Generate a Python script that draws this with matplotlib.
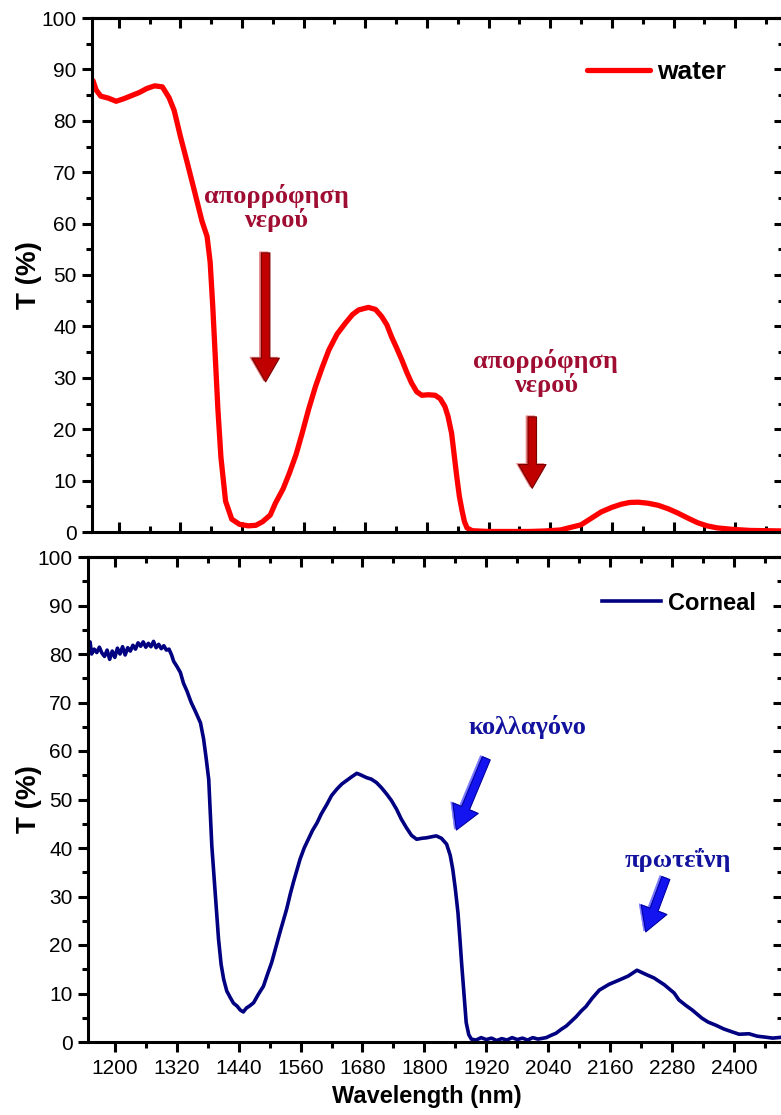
###################################################
# transmission spectra: water vs corneal tissue
###################################################
import matplotlib
matplotlib.use("Agg")
import matplotlib.pyplot as plt
from matplotlib.ticker import MultipleLocator
from matplotlib.transforms import offset_copy

plt.rcParams['font.family'] = ['Liberation Sans', 'DejaVu Sans']

# water spectrum (nm, %T)
water_nm = [1150, 1156, 1165, 1180, 1195, 1210, 1225, 1240, 1255, 1270, 1285, 1298,
            1308, 1320, 1333, 1347, 1362, 1372, 1378, 1383, 1388, 1393, 1399, 1408,
            1420, 1435, 1452, 1467, 1480, 1495, 1505, 1520, 1532, 1545, 1557, 1570,
            1583, 1596, 1609, 1625, 1641, 1655, 1667, 1686, 1700, 1712, 1722, 1731,
            1741, 1751, 1761, 1770, 1780, 1790, 1803, 1816, 1826, 1835, 1841, 1848,
            1853, 1858, 1863, 1868, 1873, 1878, 1888, 1920, 1960, 2000, 2030, 2060,
            2100, 2139, 2160, 2178, 2195, 2211, 2230, 2250, 2270, 2288, 2310, 2327,
            2345, 2365, 2396, 2430, 2495]
water_T = [87.8, 86.0, 84.8, 84.4, 83.8, 84.3, 84.9, 85.5, 86.3, 86.8, 86.6, 84.5,
           82.0, 77.0, 72.0, 66.5, 60.5, 57.5, 52.5, 44.0, 34.0, 24.0, 14.5, 6.0,
           2.5, 1.5, 1.2, 1.3, 2.0, 3.3, 5.6, 8.4, 11.4, 15.0, 19.2, 24.0,
           28.3, 32.0, 35.4, 38.5, 40.6, 42.3, 43.2, 43.7, 43.3, 41.9, 40.3, 38.0,
           35.8, 33.5, 31.0, 29.0, 27.3, 26.6, 26.7, 26.6, 25.9, 24.4, 22.5, 19.2,
           15.0, 10.8, 7.0, 4.3, 2.0, 0.8, 0.25, 0.1, 0.1, 0.1, 0.2, 0.4,
           1.4, 3.9, 4.8, 5.4, 5.75, 5.8, 5.6, 5.2, 4.5, 3.7, 2.6, 1.8,
           1.2, 0.8, 0.5, 0.3, 0.2]

# corneal spectrum (nm, %T)
cornea_nm = [1150, 1152, 1155, 1160, 1165, 1170, 1175, 1180, 1185, 1190, 1195, 1200,
             1205, 1210, 1215, 1220, 1225, 1230, 1235, 1240, 1245, 1250, 1255, 1260,
             1265, 1270, 1275, 1280, 1285, 1290, 1295, 1300, 1305, 1310, 1314, 1320,
             1327, 1333, 1340, 1348, 1356, 1366, 1372, 1377, 1382, 1385, 1388, 1395,
             1401, 1406, 1411, 1417, 1424, 1430, 1437, 1443, 1449, 1455, 1462, 1469,
             1478, 1488, 1496, 1504, 1512, 1520, 1527, 1533, 1540, 1546, 1553, 1559,
             1567, 1575, 1583, 1592, 1600, 1611, 1620, 1630, 1640, 1649, 1658, 1669,
             1678, 1688, 1697, 1707, 1717, 1727, 1736, 1746, 1755, 1765, 1775, 1785,
             1795, 1804, 1813, 1823, 1833, 1843, 1850, 1855, 1860, 1865, 1869, 1872,
             1877, 1881, 1886, 1891, 1900, 1910, 1920, 1930, 1940, 1950, 1960, 1970,
             1980, 1990, 2000, 2010, 2020, 2036, 2046, 2055, 2065, 2075, 2085, 2094,
             2104, 2113, 2125, 2139, 2158, 2178, 2195, 2212, 2228, 2245, 2265, 2284,
             2293, 2306, 2319, 2338, 2350, 2364, 2380, 2396, 2410, 2429, 2445, 2461,
             2475, 2495]
cornea_T = [80.9, 82.5, 80.0, 81.0, 80.3, 81.4, 80.2, 79.5, 80.8, 78.9, 80.6, 79.3,
            81.2, 80.0, 81.5, 79.8, 81.3, 80.6, 81.8, 81.0, 82.3, 81.6, 82.5, 81.4,
            82.2, 81.5, 82.6, 81.3, 82.0, 81.1, 81.7, 80.8, 81.0, 79.8, 78.5, 77.5,
            76.2, 74.0, 72.3, 70.0, 68.2, 65.8, 62.5, 58.5, 54.1, 47.0, 40.4, 30.1,
            21.2, 16.0, 12.9, 10.5, 9.1, 8.0, 7.4, 6.6, 6.2, 7.0, 7.5, 8.1,
            9.8, 11.5, 14.0, 16.4, 19.5, 22.6, 25.2, 27.4, 30.5, 32.9, 35.5, 37.7,
            40.0, 41.8, 43.6, 45.2, 47.0, 49.0, 50.8, 52.1, 53.2, 53.9, 54.6, 55.4,
            55.0, 54.5, 54.2, 53.5, 52.4, 51.1, 49.8, 48.0, 46.0, 44.2, 42.6, 41.8,
            42.0, 42.1, 42.3, 42.5, 42.0, 40.8, 38.5, 35.6, 31.5, 26.7, 21.0, 16.4,
            9.5, 4.0, 1.5, 0.6, 0.4, 0.9, 0.5, 0.8, 0.3, 0.7, 0.4, 0.9,
            0.5, 0.8, 0.4, 0.9, 0.6, 0.9, 1.4, 1.8, 2.6, 3.3, 4.3, 5.2,
            6.4, 7.3, 9.0, 10.7, 11.9, 12.8, 13.6, 14.8, 14.0, 13.2, 11.8, 10.1,
            8.7, 7.6, 6.6, 4.9, 4.1, 3.5, 2.7, 2.1, 1.6, 1.7, 1.2, 1.0,
            0.8, 1.0]

x_ticks = [1200, 1320, 1440, 1560, 1680, 1800, 1920, 2040, 2160, 2280, 2400]

# annotation texts and (text pos, arrow tail, arrow tip) in data units
water_notes = ["απορρόφηση\nνερού", "απορρόφηση\nνερού"]
water_note_pos = [(1507, 63.0), (2031, 31.0)]
water_arrows = [((1486, 54.3), (1486, 29.2)), ((2005, 22.4), (2005, 8.5))]
cornea_notes = ["κολλαγόνο", "πρωτεΐνη"]
cornea_note_pos = [(1999, 65.0), (2291, 37.5)]
cornea_arrows = [((1920, 58.5), (1862, 43.7)), ((2268, 33.8), (2229, 22.7))]

XLIM = (1148, 2495)
SERIF = ['Liberation Serif', 'DejaVu Serif']


def style_axes(ax, show_xlabels):
    """Origin-like frame: outward left/bottom ticks, inward top/right ticks."""
    ax.set_xlim(*XLIM)
    ax.set_ylim(0, 100)
    for sp in ax.spines.values():
        sp.set_linewidth(2.2)
    ax.set_xticks(x_ticks)
    ax.xaxis.set_minor_locator(MultipleLocator(60))
    ax.yaxis.set_major_locator(MultipleLocator(10))
    ax.yaxis.set_minor_locator(MultipleLocator(5))
    ax.tick_params(axis='y', which='major', direction='out', length=7, width=2.2,
                   labelsize=15, pad=4)
    ax.tick_params(axis='y', which='minor', direction='out', length=4, width=2.2)
    xdir = 'out' if show_xlabels else 'in'
    ax.tick_params(axis='x', which='major', direction=xdir, length=7, width=2.2,
                   labelsize=15, pad=5, labelbottom=show_xlabels)
    ax.tick_params(axis='x', which='minor', direction=xdir, length=4, width=2.2)

    # top and right ticks point inward, no labels
    top = ax.secondary_xaxis('top')
    top.set_xticks(x_ticks)
    top.xaxis.set_minor_locator(MultipleLocator(60))
    top.tick_params(axis='x', which='major', direction='in', length=7, width=2.2,
                    labeltop=False)
    top.tick_params(axis='x', which='minor', direction='in', length=4, width=2.2)
    top.spines['top'].set_linewidth(2.2)
    right = ax.secondary_yaxis('right')
    right.yaxis.set_major_locator(MultipleLocator(10))
    right.yaxis.set_minor_locator(MultipleLocator(5))
    right.tick_params(axis='y', which='major', direction='in', length=7, width=2.2,
                      labelright=False)
    right.tick_params(axis='y', which='minor', direction='in', length=4, width=2.2)
    right.spines['right'].set_linewidth(2.2)


def draw_arrow(ax, tail, tip, main, dark, light):
    # light copy shifted left for the bevelled look, then the solid arrow
    style = 'simple,head_length=0.95,head_width=1.1,tail_width=0.34'
    shifted = offset_copy(ax.transData, fig=ax.figure, x=-2, y=1, units='dots')
    ax.annotate('', xy=tip, xytext=tail, xycoords=shifted, textcoords=shifted,
                arrowprops=dict(arrowstyle=style, fc=light, ec=light, lw=0.5,
                                mutation_scale=18, shrinkA=0, shrinkB=0))
    ax.annotate('', xy=tip, xytext=tail,
                arrowprops=dict(arrowstyle=style, fc=main, ec=dark, lw=0.8,
                                mutation_scale=18, shrinkA=0, shrinkB=0))


fig = plt.figure(figsize=(7.81, 11.15), dpi=100)
ax1 = fig.add_axes([92 / 781, 1 - 532 / 1115, (784 - 92) / 781, 514 / 1115])
ax2 = fig.add_axes([88 / 781, 1 - 1042 / 1115, (783 - 88) / 781, 485 / 1115])

# top panel: water
ax1.plot(water_nm, water_T, color='#ff0000', lw=3.8, solid_capstyle='round',
         solid_joinstyle='round', label='water')
style_axes(ax1, False)
ax1.set_ylabel('T (%)', fontsize=20, fontweight='bold')
ax1.yaxis.set_label_coords(-0.072, 0.5)
ax1.legend(loc='center left', bbox_to_anchor=(0.715, 0.895), frameon=False,
           handlelength=2.4, handletextpad=0.25, borderpad=0, borderaxespad=0,
           prop=dict(size=19, weight='bold'))
for txt, pos in zip(water_notes, water_note_pos):
    ax1.text(pos[0], pos[1], txt, color='#a00d32', fontsize=19, fontweight='bold',
             family=SERIF, ha='center', va='center', linespacing=1.0)
for tail, tip in water_arrows:
    draw_arrow(ax1, tail, tip, '#c00000', '#7a0000', '#e88080')

# bottom panel: cornea
ax2.plot(cornea_nm, cornea_T, color='#000080', lw=2.6, solid_joinstyle='round',
         label='Corneal')
style_axes(ax2, True)
ax2.set_ylabel('T (%)', fontsize=20, fontweight='bold')
ax2.yaxis.set_label_coords(-0.066, 0.5)
ax2.set_xlabel('Wavelength (nm)', fontsize=17, fontweight='bold')
ax2.xaxis.set_label_coords(0.488, -0.088)
ax2.legend(loc='center left', bbox_to_anchor=(0.74, 0.905), frameon=False,
           handlelength=2.5, handletextpad=0.3, borderpad=0, borderaxespad=0,
           prop=dict(size=17, weight='bold'))
for txt, pos in zip(cornea_notes, cornea_note_pos):
    ax2.text(pos[0], pos[1], txt, color='#12129e', fontsize=19, fontweight='bold',
             family=SERIF, ha='center', va='center')
for tail, tip in cornea_arrows:
    draw_arrow(ax2, tail, tip, '#1414f0', '#0000a0', '#7878ff')

fig.savefig('out.png', dpi=100)
